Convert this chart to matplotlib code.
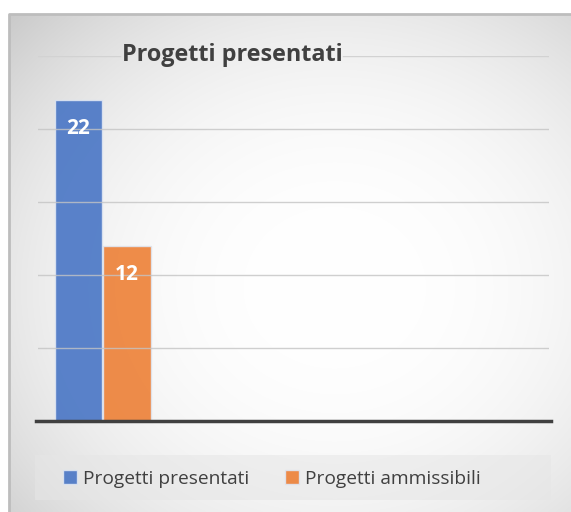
import matplotlib
matplotlib.use("Agg")
import matplotlib.pyplot as plt
import numpy as np
from matplotlib.patches import Rectangle

series_names = ["Progetti presentati", "Progetti ammissibili"]
series_values = [22, 12]
series_colors = ["#4472C4", "#ED7D31"]
y_ticks = [0, 5, 10, 15, 20, 25]
title = "Progetti presentati"

plt.rcParams['font.family'] = ['Open Sans', 'DejaVu Sans']

W, H = 571, 512
fig = plt.figure(figsize=(W / 100, H / 100), dpi=100)
fig.patch.set_facecolor("white")

def fx(px):
    return px / W

def fy(py):
    return 1 - py / H

# chart area background with radial gradient
ca_l, ca_t, ca_r, ca_b = 9, 14, 571, 512
bg = fig.add_axes([fx(ca_l), fy(ca_b), fx(ca_r - ca_l), (ca_b - ca_t) / H])
bg.set_axis_off()
nx, ny = 300, 260
xx, yy = np.meshgrid(np.linspace(0, 1, nx), np.linspace(0, 1, ny))
cx, cy = 0.58, 0.55
d = np.sqrt(((xx - cx) / 0.8) ** 2 + ((yy - cy) / 0.8) ** 2)
v = np.clip(1.0 - 0.21 * d ** 2.5, 0, 1)
img = np.dstack([v, v, v])
bg.imshow(img, extent=[0, 1, 0, 1], aspect="auto", origin="upper", interpolation="bilinear")
bg.set_xlim(0, 1)
bg.set_ylim(0, 1)
bg.plot([0, 0, 1], [0, 1, 1], color="#bdbdbd", lw=2, transform=bg.transAxes, clip_on=False)

# legend background
leg_l, leg_t, leg_r, leg_b = 35, 455, 551, 500
fig.patches.append(Rectangle((fx(leg_l), fy(leg_b)), fx(leg_r - leg_l), (leg_b - leg_t) / H,
                             transform=fig.transFigure, facecolor="#e6e6e6", alpha=0.55,
                             edgecolor="none", zorder=1))

# main axes
ax_l, ax_t, ax_r, ax_b = 38, 56, 549, 421
ax = fig.add_axes([fx(ax_l), fy(ax_b), fx(ax_r - ax_l), (ax_b - ax_t) / H])
ax.set_facecolor("none")
ax.set_ylim(0, 25)
ax.set_xlim(-0.5, 3.5)
for s in ax.spines.values():
    s.set_visible(False)
ax.set_xticks([])
ax.set_yticks([])

offsets = [-0.183, 0.197]
width = 0.37
handles = []
for name, val, col, off in zip(series_names, series_values, series_colors, offsets):
    b = ax.bar(off, val, width=width, color=col, alpha=0.88, edgecolor="#dfe6f2",
               linewidth=1.0, zorder=2, label=name)
    handles.append(b)
    ax.annotate(str(val), (off, val), xytext=(0, -20.5), textcoords="offset points",
                ha="center", va="center", color="white", fontsize=15,
                fontweight="bold", zorder=4)

# title
t = fig.text(fx(232), fy(55), title, ha="center", va="center", fontsize=16.8,
             fontweight="bold", color="#404040")

fig.canvas.draw()
tb = t.get_window_extent()
tx0 = ax.transAxes.inverted().transform((tb.x0 - 2, 0))[0]
tx1 = ax.transAxes.inverted().transform((tb.x1 + 1, 0))[0]

for yv in y_ticks[1:]:
    if yv == y_ticks[-1]:
        ax.axhline(yv, xmin=0, xmax=tx0, color="#d2d2d2", lw=1.0, zorder=3)
        ax.axhline(yv, xmin=tx1, xmax=1, color="#d2d2d2", lw=1.0, zorder=3)
    else:
        ax.axhline(yv, color="#c4c4c4", lw=1.0, zorder=3, alpha=0.8)

ax.axhline(0, xmin=-0.004, xmax=1.004, color="#404040", lw=2.5, zorder=5, clip_on=False)

leg = fig.legend(handles=handles, labels=series_names, loc="center",
                 bbox_to_anchor=(fx(272), fy(479)), ncol=2, frameon=False,
                 fontsize=13.8, labelcolor="#404040", handlelength=0.72,
                 handleheight=0.72, handletextpad=0.3, columnspacing=1.9)

fig.savefig("out.png", dpi=100, facecolor="white")
